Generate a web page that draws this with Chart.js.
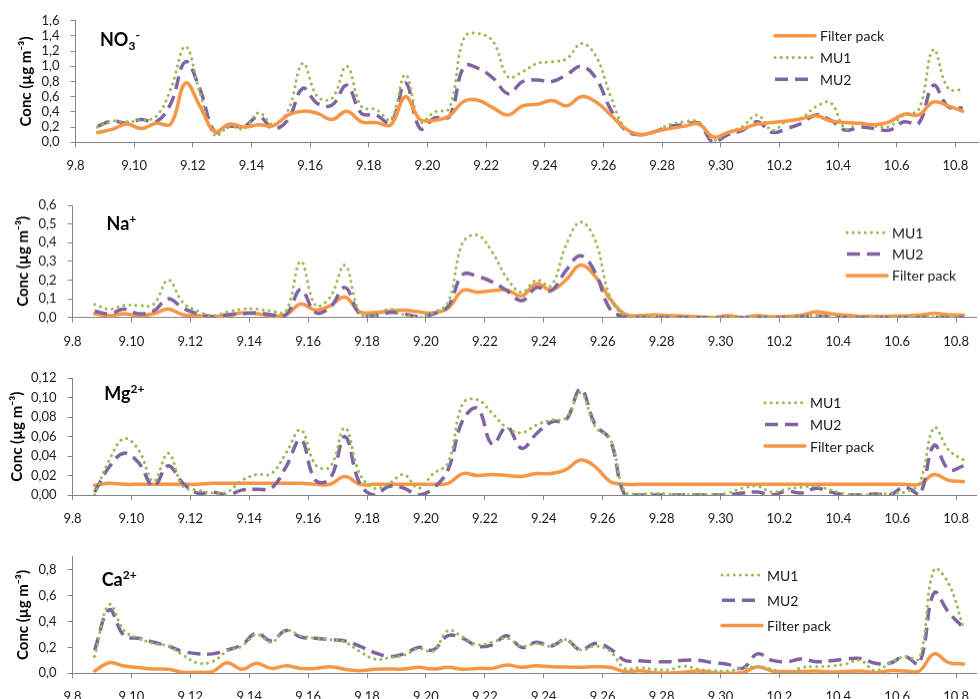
<!DOCTYPE html>
<html>
<head>
<meta charset="utf-8">
<script src="https://cdn.jsdelivr.net/npm/chart.js@4.4.0/dist/chart.umd.min.js"></script>
<style>
  body { margin: 0; background: #fff; width: 980px; height: 699px; overflow: hidden; position: relative; font-family: Lato, sans-serif; }
  .panel { position: absolute; left: 0; width: 980px; }
  .ion { position: absolute; font: bold 18px/18px Lato, sans-serif; color: #000; white-space: nowrap; }
  .ion .sub { font-size: 12px; position: relative; top: 4px; }
  .ion .sup { font-size: 12px; position: relative; top: -7px; }
</style>
</head>
<body>
<script>
// sample times, days after 8 September (two samples a day)
const sampleDays = [
  0.75, 1.25, 1.75, 2.25, 2.75, 3.25, 3.75, 4.25, 4.75, 5.25,
  5.75, 6.25, 6.75, 7.25, 7.75, 8.25, 8.75, 9.25, 9.75, 10.25,
  10.75, 11.25, 11.75, 12.25, 12.75, 13.25, 13.75, 14.25, 14.75, 15.25,
  15.75, 16.25, 16.75, 17.25, 17.75, 18.25, 18.75, 19.25, 19.75, 20.25,
  20.75, 21.25, 21.75, 22.25, 22.75, 23.25, 23.75, 24.25, 24.75, 25.25,
  25.75, 26.25, 26.75, 27.25, 27.75, 28.25, 28.75, 29.25, 29.75, 30.25
];
const tickDays = [0, 2, 4, 6, 8, 10, 12, 14, 16, 18, 20, 22, 24, 26, 28, 30];
const tickLabels = ['9.8', '9.10', '9.12', '9.14', '9.16', '9.18', '9.20', '9.22',
  '9.24', '9.26', '9.28', '9.30', '10.2', '10.4', '10.6', '10.8'];

const no3YTicks = [0, 0.2, 0.4, 0.6, 0.8, 1.0, 1.2, 1.4, 1.6];
const naYTicks = [0, 0.1, 0.2, 0.3, 0.4, 0.5, 0.6];
const mgYTicks = [0, 0.02, 0.04, 0.06, 0.08, 0.10, 0.12];
const caYTicks = [0, 0.2, 0.4, 0.6, 0.8];

const no3Filter = [0.13, 0.17, 0.24, 0.18, 0.25, 0.24, 0.78, 0.47, 0.14, 0.24,
  0.20, 0.23, 0.22, 0.36, 0.41, 0.38, 0.30, 0.41, 0.27, 0.26,
  0.23, 0.60, 0.30, 0.29, 0.35, 0.54, 0.55, 0.45, 0.36, 0.48,
  0.50, 0.55, 0.48, 0.60, 0.53, 0.36, 0.18, 0.10, 0.14, 0.18,
  0.21, 0.24, 0.07, 0.13, 0.18, 0.24, 0.26, 0.28, 0.31, 0.35,
  0.28, 0.26, 0.25, 0.23, 0.27, 0.37, 0.36, 0.53, 0.48, 0.41];
const no3MU1 = [0.20, 0.28, 0.27, 0.29, 0.34, 0.70, 1.26, 0.64, 0.09, 0.21,
  0.18, 0.39, 0.23, 0.42, 1.04, 0.60, 0.58, 1.00, 0.47, 0.43,
  0.30, 0.89, 0.27, 0.40, 0.45, 1.38, 1.43, 1.32, 0.86, 0.93,
  1.04, 1.06, 1.10, 1.30, 1.13, 0.60, 0.18, 0.11, 0.14, 0.23,
  0.27, 0.27, 0.03, 0.13, 0.21, 0.36, 0.16, 0.28, 0.32, 0.47,
  0.52, 0.18, 0.25, 0.21, 0.21, 0.36, 0.43, 1.22, 0.71, 0.69];
const no3MU2 = [0.21, 0.28, 0.25, 0.30, 0.27, 0.51, 1.06, 0.69, 0.14, 0.21,
  0.21, 0.34, 0.18, 0.30, 0.71, 0.51, 0.49, 0.75, 0.38, 0.36,
  0.25, 0.78, 0.18, 0.32, 0.34, 1.00, 0.97, 0.84, 0.64, 0.80,
  0.82, 0.80, 0.89, 1.00, 0.84, 0.43, 0.16, 0.10, 0.14, 0.21,
  0.23, 0.25, 0.00, 0.10, 0.16, 0.27, 0.13, 0.18, 0.25, 0.36,
  0.29, 0.16, 0.20, 0.18, 0.16, 0.27, 0.25, 0.75, 0.47, 0.45];

const naFilter = [0.02, 0.01, 0.02, 0.01, 0.02, 0.045, 0.015, 0.01, 0.005, 0.01,
  0.025, 0.02, 0.01, 0.015, 0.072, 0.04, 0.063, 0.11, 0.03, 0.027,
  0.035, 0.04, 0.03, 0.025, 0.05, 0.145, 0.135, 0.143, 0.147, 0.116,
  0.18, 0.147, 0.20, 0.28, 0.22, 0.10, 0.018, 0.01, 0.015, 0.01,
  0.008, 0.004, 0.0, 0.01, 0.0, 0.01, 0.004, 0.006, 0.013, 0.03,
  0.02, 0.013, 0.007, 0.006, 0.007, 0.009, 0.013, 0.022, 0.015, 0.013];
const naMU1 = [0.07, 0.045, 0.065, 0.065, 0.07, 0.20, 0.08, 0.035, 0.01, 0.03,
  0.045, 0.045, 0.035, 0.035, 0.30, 0.065, 0.11, 0.28, 0.027, 0.01,
  0.045, 0.015, 0.0, 0.027, 0.08, 0.40, 0.44, 0.35, 0.21, 0.135,
  0.20, 0.17, 0.385, 0.51, 0.41, 0.11, 0.01, 0.005, 0.0, 0.0,
  0.0, 0.0, 0.0, 0.003, 0.0, 0.007, 0.0, 0.005, 0.007, 0.009,
  0.003, 0.003, 0.0, 0.0, 0.003, 0.003, 0.002, 0.003, 0.0, 0.003];
const naMU2 = [0.035, 0.02, 0.045, 0.02, 0.035, 0.10, 0.05, 0.02, 0.005, 0.015,
  0.02, 0.025, 0.015, 0.015, 0.15, 0.027, 0.055, 0.16, 0.02, 0.01,
  0.027, 0.02, 0.005, 0.02, 0.06, 0.23, 0.22, 0.19, 0.143, 0.09,
  0.16, 0.143, 0.25, 0.33, 0.24, 0.045, 0.004, 0.0, 0.0, 0.0,
  0.0, 0.0, 0.0, 0.0, 0.0, 0.0, 0.0, 0.0, 0.004, 0.009,
  0.003, 0.0, 0.0, 0.0, 0.0, 0.0, 0.0, 0.0, 0.0, 0.0];

const mgFilter = [0.010, 0.012, 0.011, 0.011, 0.011, 0.011, 0.011, 0.011, 0.012, 0.012,
  0.012, 0.012, 0.012, 0.012, 0.012, 0.011, 0.011, 0.019, 0.011, 0.011,
  0.011, 0.011, 0.011, 0.011, 0.012, 0.022, 0.020, 0.021, 0.020, 0.019,
  0.022, 0.022, 0.026, 0.036, 0.029, 0.014, 0.011, 0.011, 0.011, 0.011,
  0.011, 0.011, 0.011, 0.011, 0.011, 0.011, 0.011, 0.011, 0.011, 0.011,
  0.011, 0.011, 0.011, 0.011, 0.011, 0.011, 0.011, 0.021, 0.015, 0.014];
const mgMU1 = [0.0, 0.036, 0.058, 0.046, 0.014, 0.043, 0.009, 0.005, 0.002, 0.003,
  0.015, 0.021, 0.022, 0.043, 0.067, 0.031, 0.029, 0.069, 0.022, 0.007,
  0.012, 0.021, 0.007, 0.022, 0.033, 0.094, 0.098, 0.084, 0.069, 0.064,
  0.072, 0.077, 0.079, 0.105, 0.070, 0.058, 0.003, 0.001, 0.002, 0.001,
  0.0, 0.001, 0.0, 0.002, 0.007, 0.009, 0.003, 0.006, 0.008, 0.009,
  0.005, 0.001, 0.0, 0.0, 0.002, 0.003, 0.012, 0.069, 0.046, 0.036];
const mgMU2 = [0.003, 0.029, 0.043, 0.033, 0.009, 0.030, 0.012, 0.002, 0.003, 0.0,
  0.005, 0.006, 0.007, 0.029, 0.057, 0.015, 0.017, 0.060, 0.012, 0.0,
  0.009, 0.007, 0.0, 0.007, 0.026, 0.077, 0.089, 0.052, 0.070, 0.048,
  0.063, 0.075, 0.077, 0.109, 0.072, 0.057, 0.0, 0.0, 0.0, 0.0,
  0.0, 0.0, 0.0, 0.0, 0.002, 0.003, 0.0, 0.004, 0.002, 0.007,
  0.003, 0.0, 0.0, 0.001, 0.0, 0.008, 0.0, 0.051, 0.026, 0.030];

const caFilter = [0.018, 0.082, 0.056, 0.044, 0.033, 0.031, 0.008, 0.008, 0.013, 0.082,
  0.031, 0.077, 0.038, 0.059, 0.038, 0.038, 0.051, 0.031, 0.020, 0.031,
  0.033, 0.033, 0.046, 0.033, 0.046, 0.031, 0.038, 0.038, 0.064, 0.046,
  0.059, 0.051, 0.049, 0.046, 0.051, 0.046, 0.013, 0.020, 0.005, 0.003,
  0.008, 0.018, 0.005, 0.0, 0.005, 0.051, 0.018, 0.013, 0.013, 0.018,
  0.010, 0.013, 0.018, 0.005, 0.020, 0.018, 0.018, 0.150, 0.082, 0.072];
const caMU1 = [0.13, 0.53, 0.33, 0.27, 0.23, 0.21, 0.14, 0.08, 0.09, 0.17,
  0.21, 0.30, 0.24, 0.33, 0.29, 0.27, 0.26, 0.24, 0.17, 0.11,
  0.12, 0.14, 0.19, 0.17, 0.33, 0.28, 0.22, 0.24, 0.27, 0.21,
  0.23, 0.21, 0.26, 0.18, 0.21, 0.17, 0.038, 0.044, 0.031, 0.026,
  0.056, 0.031, 0.02, 0.018, 0.038, 0.051, 0.031, 0.0, 0.044, 0.051,
  0.056, 0.072, 0.10, 0.02, 0.077, 0.13, 0.115, 0.80, 0.69, 0.35];
const caMU2 = [0.18, 0.49, 0.29, 0.27, 0.24, 0.21, 0.17, 0.15, 0.15, 0.18,
  0.22, 0.31, 0.25, 0.33, 0.28, 0.27, 0.26, 0.25, 0.21, 0.16,
  0.13, 0.15, 0.20, 0.18, 0.29, 0.27, 0.21, 0.22, 0.29, 0.20,
  0.24, 0.21, 0.26, 0.18, 0.23, 0.19, 0.10, 0.097, 0.09, 0.09,
  0.10, 0.10, 0.082, 0.069, 0.038, 0.15, 0.10, 0.09, 0.11, 0.09,
  0.097, 0.11, 0.115, 0.077, 0.077, 0.13, 0.077, 0.62, 0.47, 0.35];

// line styles
const styles = {
  fp:  { label: 'Filter pack', color: '#F79646', width: 3.5, dash: [],        cap: 'round' },
  mu1: { label: 'MU1',         color: '#9BBB59', width: 3,   dash: [0.1, 6],  cap: 'round' },
  mu2: { label: 'MU2',         color: '#8064A2', width: 3.5, dash: [13, 7],   cap: 'butt' }
};

const panels = [
  { ion: 'NO<span class="sub">3</span><span class="sup">-</span>', ionX: 100, ionY: 30,
    top: 0, areaTop: 20.7, areaBottom: 142.3, left: 75.5, xMax: 30.78,
    yMax: 1.6, yTicks: no3YTicks, dec: 1, titleX: 26,
    order: ['fp', 'mu1', 'mu2'], values: { fp: no3Filter, mu1: no3MU1, mu2: no3MU2 },
    legend: { x: 775, y: 35.7, gap: 21.8 } },
  { ion: 'Na<span class="sup">+</span>', ionX: 106.5, ionY: 213.5,
    top: 175, areaTop: 205, areaBottom: 316.7, left: 72.5, xMax: 30.7,
    yMax: 0.6, yTicks: naYTicks, dec: 1, titleX: 23.3,
    order: ['mu1', 'mu2', 'fp'], values: { fp: naFilter, mu1: naMU1, mu2: naMU2 },
    legend: { x: 847, y: 57.3, gap: 21.3 } },
  { ion: 'Mg<span class="sup">2+</span>', ionX: 104.3, ionY: 384,
    top: 350, areaTop: 378.3, areaBottom: 495, left: 72.5, xMax: 30.7,
    yMax: 0.12, yTicks: mgYTicks, dec: 2, titleX: 17.5,
    order: ['mu1', 'mu2', 'fp'], values: { fp: mgFilter, mu1: mgMU1, mu2: mgMU2 },
    legend: { x: 765, y: 52.7, gap: 21.7 } },
  { ion: 'Ca<span class="sup">2+</span>', ionX: 101.7, ionY: 570,
    top: 530, areaTop: 556.7, areaBottom: 673.3, left: 72.5, xMax: 30.7,
    yMax: 0.9, yTicks: caYTicks, dec: 1, titleX: 23.3,
    order: ['mu1', 'mu2', 'fp'], values: { fp: caFilter, mu1: caMU1, mu2: caMU2 },
    legend: { x: 722, y: 45, gap: 25.3 } }
];

const xAxisH = 32;
const textColor = '#1a1a1a';
const axisColor = '#868686';

// legend drawn inside the plot area, at a fixed spot
const insideLegend = {
  id: 'insideLegend',
  afterDraw(chart, args, opts) {
    const ctx = chart.ctx;
    ctx.save();
    chart.data.datasets.forEach((ds, i) => {
      const y = opts.y + i * opts.gap;
      ctx.strokeStyle = ds.borderColor;
      ctx.lineWidth = ds.borderWidth;
      ctx.lineCap = ds.borderCapStyle;
      ctx.setLineDash(ds.borderDash);
      ctx.beginPath();
      ctx.moveTo(opts.x, y);
      ctx.lineTo(opts.x + 40, y);
      ctx.stroke();
      ctx.setLineDash([]);
      ctx.fillStyle = textColor;
      ctx.font = '14px Lato';
      ctx.textBaseline = 'middle';
      ctx.fillText(ds.label, opts.x + 45, y + 1);
    });
    ctx.restore();
  }
};

panels.forEach((p, n) => {
  const box = document.createElement('div');
  box.className = 'panel';
  box.style.top = p.top + 'px';
  box.style.height = (p.areaBottom - p.top + xAxisH) + 'px';
  const canvas = document.createElement('canvas');
  box.appendChild(canvas);
  document.body.appendChild(box);

  const ion = document.createElement('div');
  ion.className = 'ion';
  ion.innerHTML = p.ion;
  ion.style.left = p.ionX + 'px';
  ion.style.top = p.ionY + 'px';
  document.body.appendChild(ion);

  const datasets = p.order.map(key => {
    const s = styles[key];
    return {
      label: s.label,
      data: sampleDays.map((d, i) => ({ x: d, y: p.values[key][i] })),
      borderColor: s.color,
      backgroundColor: s.color,
      borderWidth: s.width,
      borderDash: s.dash,
      borderCapStyle: s.cap,
      borderJoinStyle: 'round',
      pointRadius: 0,
      tension: 0.4,
      fill: false
    };
  });

  new Chart(canvas, {
    type: 'line',
    data: { datasets },
    plugins: [insideLegend],
    options: {
      responsive: true,
      maintainAspectRatio: false,
      animation: false,
      layout: { padding: { top: p.areaTop - p.top, left: 0, right: 0, bottom: 0 } },
      plugins: {
        legend: { display: false },
        tooltip: { enabled: false },
        insideLegend: p.legend
      },
      scales: {
        x: {
          type: 'linear',
          min: 0,
          max: p.xMax,
          afterFit: s => { s.height = xAxisH; },
          afterBuildTicks: s => { s.ticks = tickDays.map(v => ({ value: v })); },
          ticks: {
            autoSkip: false, maxRotation: 0, padding: 11, color: textColor,
            font: { family: 'Lato', size: 13 },
            callback: v => tickLabels[tickDays.indexOf(v)]
          },
          grid: { drawOnChartArea: false, drawTicks: true, tickLength: 5, color: axisColor },
          border: { color: axisColor, width: 1 }
        },
        y: {
          min: 0,
          max: p.yMax,
          afterFit: s => { s.width = p.left; },
          afterBuildTicks: s => { s.ticks = p.yTicks.map(v => ({ value: v })); },
          ticks: {
            autoSkip: false, padding: 11, color: textColor,
            font: { family: 'Lato', size: 13 },
            callback: v => v.toFixed(p.dec).replace('.', ',')
          },
          grid: { drawOnChartArea: false, drawTicks: true, tickLength: 5, color: axisColor },
          border: { color: axisColor, width: 1 },
          title: {
            display: true,
            text: 'Conc (µg m⁻³)',
            color: '#000',
            font: { family: 'Lato', size: 15, weight: 'bold' },
            padding: { top: p.titleX - 9, bottom: 0 }
          }
        }
      }
    }
  });
});
</script>
</body>
</html>
